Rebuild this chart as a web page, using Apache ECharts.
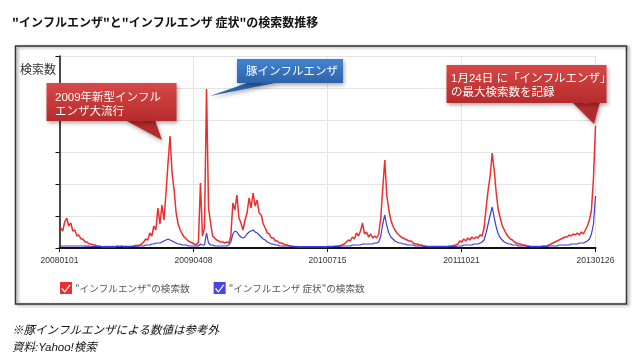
<!DOCTYPE html>
<html><head><meta charset="utf-8">
<script src="https://cdn.jsdelivr.net/npm/echarts@6/dist/echarts.min.js"></script>
<style>html,body{margin:0;padding:0;background:#fff}#c{width:640px;height:359px}</style>
</head><body><div id="c"></div>
<script>
// x axis tick labels (every 463 days from 2008-01-01)
const tickLabels = ['20080101','20090408','20100715','20111021','20130126'];
const tickStepDays = 463;
const totalDays = 1852;
// weekly samples, first sample on day 4 (2008-01-05), last on 2013-01-26
const firstDay = 4;
const stepDays = 7;
// "インフルエンザ" search volume (relative)
const redValues = [
  20,17,26,30,22,25,17,18,12,13,
  9,9,6,6,4,4,3,3,2,2,
  1.5,1.2,1.5,1.2,1.5,1.2,1.5,1.3,2,1.5,
  2,1.5,1.8,1.5,1.5,1.8,2,2.5,2.5,3,
  4,6,9,8,15,12,22,18,40,24,
  43,28,55,85,112,75,58,35,24,18,
  14,11,9,7,6,5,4,3,6,65,
  12,20,159,40,25,12,10,8,7,6,
  6,5,6,5,12,45,38,53,30,25,
  18,28,35,50,40,55,42,48,35,33,
  24,20,15,14,10,10,7,7,5,5,
  4,3,3,2,2,1.5,1.5,1.2,1.2,1.2,
  1.2,1.2,1.2,1.2,1.2,1.2,1.2,1.2,1.2,1.2,
  1.2,1.2,1.5,1.5,1.5,1.8,2,2,2.5,3,
  4,6,8,7,11,9,15,12,17,25,
  14,16,11,14,10,12,10,14,30,60,
  88,52,38,28,22,18,15,13,11,10,
  9,8,7,7,5,4,4,3,3,2,
  2,1.5,1.5,1.5,1.5,1.5,1.5,1.5,1.5,1.5,
  1.5,1.5,2,2,2.5,3,4,7,6,9,
  7,10,8,11,9,11,10,13,12,20,
  40,58,72,95,78,55,38,30,22,18,
  14,11,9,8,6,5,4,4,3,3,
  2,2,1.5,1.5,1.5,1.5,1.5,1.5,2,2,
  2,3,4,5,6,7,8,9,10,11,
  11,13,12,14,13,15,13,16,14,18,
  22,28,38,70,122
];
// "インフルエンザ 症状" search volume (relative)
const blueValues = [
  2,2,2,2,2,2,2,2,2,2,
  2,2,1.8,1.8,1.8,1.5,1.5,1.5,1.5,1.5,
  1.5,1.5,1.5,1.5,1.5,1.5,1.5,1.5,1.5,1.5,
  1.5,1.5,1.5,1.5,1.5,1.5,1.5,1.8,1.8,2,
  2,2,3,3,3,4,4,5,5,5,
  6,7,8,9,8,7,6,5,4,4,
  3,3,3,2,2,2,2,2,2,4,
  3,3,15,5,3,3,2,2,2,2,
  2,2,2,3,6,14,17,16,13,11,
  10,11,14,16,17,18,16,15,13,11,
  9,8,6,5,4,4,3,3,2,2,
  2,2,2,2,1.5,1.5,1.5,1.5,1.5,1.5,
  1.5,1.5,1.5,1.5,1.5,1.5,1.5,1.5,1.5,1.5,
  1.5,1.5,1.5,1.5,1.5,1.5,1.5,1.5,1.8,2,
  2,2,2,2,3,3,3,3,3,4,
  4,4,4,4,4,5,5,6,12,24,
  33,22,15,11,9,7,6,5,5,4,
  4,3,3,3,3,2,2,2,2,2,
  1.5,1.5,1.5,1.5,1.5,1.5,1.5,1.5,1.5,1.5,
  1.5,1.5,1.5,1.5,1.5,1.5,2,2,2,3,
  3,3,3,3,4,4,4,5,6,8,
  15,24,33,41,30,21,14,10,8,6,
  5,4,4,3,3,3,2,2,2,2,
  2,1.5,1.5,1.5,1.5,1.5,1.5,1.5,1.5,1.5,
  1.5,2,2,2,2,2,3,3,3,3,
  3,3,4,4,4,4,5,5,5,6,
  7,9,14,24,52
];
const seriesNames = ['"インフルエンザ"の検索数', '"インフルエンザ 症状"の検索数'];
const yMax = 192, yStep = 32;

const toPairs = arr => arr.map((v, i) => [firstDay + stepDays * i, v]);
const JP = '"Noto Sans CJK JP", sans-serif';
const MIX = 'Arial, "Liberation Sans", "Noto Sans CJK JP", sans-serif';
const checkIcon = 'path://M0,0 L100,0 L100,100 L0,100 Z M12,58 L40,90 L88,28 L80,20 L40,75 L20,50 Z';

function callout(box, tri, c1, c2, lines, tx, ty) {
  const sh = { shadowBlur: 4, shadowColor: 'rgba(0,0,0,0.35)', shadowOffsetX: 1, shadowOffsetY: 2 };
  return {
    type: 'group', z: 100, zlevel: 1,
    children: [
      { type: 'polygon', z: 100, zlevel: 1, shape: { points: tri }, style: Object.assign({ fill: c2 }, sh) },
      { type: 'rect', z: 101, zlevel: 1, shape: { x: box[0], y: box[1], width: box[2], height: box[3] },
        style: Object.assign({ fill: { type: 'linear', x: 0, y: 0, x2: 0, y2: 1, colorStops: [{ offset: 0, color: c1 }, { offset: 1, color: c2 }] } }, sh) },
      { type: 'polygon', z: 102, zlevel: 1, shape: { points: [[tri[0][0], tri[0][1] - 1], [tri[1][0], tri[1][1] - 1], [tri[0][0] + (tri[1][0]-tri[0][0])/2, tri[0][1]+2]] }, style: { fill: c2 } },
      { type: 'text', z: 103, zlevel: 1, style: { text: lines, x: tx, y: ty, fill: '#fff', fontSize: 11.5, fontFamily: MIX, lineHeight: 14 } }
    ]
  };
}

const chart = echarts.init(document.getElementById('c'));
chart.setOption({
  animation: false,
  backgroundColor: '#fff',
  title: [
    { text: '"インフルエンザ"と"インフルエンザ 症状"の検索数推移', left: 7, top: 11,
      textStyle: { fontSize: 12, fontWeight: 'bold', color: '#111', fontFamily: JP } },
    { text: '検索数', left: 15, top: 58, textStyle: { fontSize: 12, fontWeight: 'normal', color: '#333', fontFamily: JP } },
    { text: '※豚インフルエンザによる数値は参考外', left: 7, top: 319,
      textStyle: { fontSize: 11.5, fontWeight: 'normal', fontStyle: 'italic', color: '#111', fontFamily: JP } },
    { text: '資料:Yahoo!検索', left: 7, top: 337,
      textStyle: { fontSize: 11.5, fontWeight: 'normal', fontStyle: 'italic', color: '#111', fontFamily: MIX } }
  ],
  legend: {
    left: 55, top: 277, itemWidth: 12, itemHeight: 12, itemGap: 24, icon: checkIcon,
    textStyle: { fontSize: 9.6, color: '#555', fontFamily: JP, padding: [0, 0, 0, -2] },
    data: seriesNames, selectedMode: false
  },
  grid: { left: 59.5, right: 44.5, top: 56, bottom: 111, containLabel: false },
  xAxis: {
    type: 'value', min: 0, max: totalDays, interval: tickStepDays,
    axisLine: { show: true, lineStyle: { color: '#111', width: 2 } },
    axisTick: { show: true, length: 4, lineStyle: { color: '#111' } },
    axisLabel: { margin: 8, fontSize: 8.5, color: '#333', fontFamily: MIX,
      formatter: v => tickLabels[Math.round(v / tickStepDays)] || '' , showMinLabel: true, showMaxLabel: true },
    splitLine: { show: true, lineStyle: { color: '#e4e4e4', width: 1 } }
  },
  yAxis: {
    type: 'value', min: 0, max: yMax, interval: yStep,
    axisLine: { show: true, lineStyle: { color: '#111', width: 1.5 } },
    axisTick: { show: true, length: 4, lineStyle: { color: '#111' } },
    axisLabel: { show: false },
    splitLine: { show: true, lineStyle: { color: '#e4e4e4', width: 1 } }
  },
  series: [
    { name: seriesNames[0], type: 'line', data: toPairs(redValues), showSymbol: false, symbol: 'none',
      itemStyle: { color: '#e83030' }, lineStyle: { color: '#ec2e2e', width: 1.5 }, z: 3 },
    { name: seriesNames[1], type: 'line', data: toPairs(blueValues), showSymbol: false, symbol: 'none',
      itemStyle: { color: '#4646e0' }, lineStyle: { color: '#3c3cdc', width: 1.2 }, z: 4 }
  ],
  graphic: [
    { type: 'rect', z: -1, silent: true, shape: { x: 15.5, y: 46, width: 611, height: 258 },
      style: { fill: 'none', stroke: '#333', lineWidth: 1.5, shadowBlur: 3, shadowColor: 'rgba(0,0,0,0.45)', shadowOffsetX: 2, shadowOffsetY: 1 } },
    callout([46.5, 83, 130, 38], [[125, 120], [155, 120], [162, 140]], '#d84848', '#b52b2b',
      '2009年新型インフル\nエンザ大流行', 55, 91),
    callout([237, 59, 106, 24], [[250, 82], [280, 82], [210, 96]], '#4384cf', '#2c64aa',
      '豚インフルエンザ', 246, 65),
    callout([446.5, 65, 160, 38], [[572, 102], [600, 102], [594, 124]], '#d84848', '#b52b2b',
      '1月24日 に「インフルエンザ」\nの最大検索数を記録', 451, 72)
  ]
});
</script></body></html>
